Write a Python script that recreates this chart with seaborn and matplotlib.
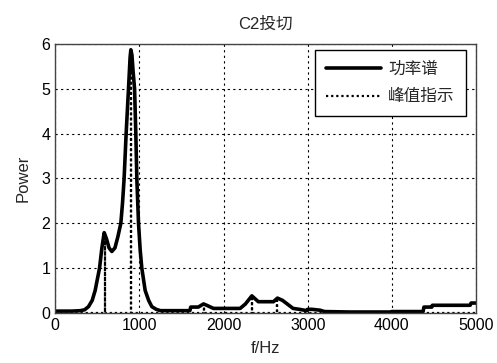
import numpy as np
import pandas as pd
import matplotlib
matplotlib.use("Agg")
import matplotlib.pyplot as plt
from matplotlib.lines import Line2D
import seaborn as sns

# Power spectrum
freq = [0, 100, 200, 300, 350, 396, 440, 475, 527, 555, 582, 610, 640, 673,
        710, 745, 780, 800, 819, 843, 871, 890, 899, 912, 925, 943, 958,
        970, 990, 1010, 1029, 1069, 1110, 1148, 1200, 1250, 1400, 1600,
        1610, 1700, 1762, 1800, 1880, 2000, 2197, 2260, 2336, 2413, 2593,
        2640, 2700, 2826, 2900, 2989, 3000, 3050, 3147, 3200, 3500, 3979,
        4000, 4370, 4380, 4474, 4480, 4700, 4929, 4940, 5000]
power = [0.04, 0.04, 0.04, 0.05, 0.07, 0.14, 0.28, 0.5, 1.0, 1.45, 1.79,
         1.65, 1.45, 1.37, 1.45, 1.7, 2.0, 2.45, 3.0, 4.0, 5.0, 5.7, 5.87,
         5.75, 5.4, 5.0, 4.0, 3.0, 2.0, 1.4, 1.0, 0.5, 0.28, 0.14, 0.08,
         0.05, 0.05, 0.05, 0.13, 0.13, 0.2, 0.17, 0.1, 0.1, 0.1, 0.2, 0.38,
         0.25, 0.25, 0.33, 0.28, 0.1, 0.08, 0.05, 0.08, 0.08, 0.06, 0.03,
         0.02, 0.02, 0.03, 0.03, 0.13, 0.13, 0.17, 0.17, 0.17, 0.22, 0.22]

# Peak indicator
peak_freq = [588, 895, 1762, 2336, 2640]
peak_power = [1.79, 5.87, 0.2, 0.38, 0.33]

title = "C2投切"
xlabel = "f/Hz"
ylabel = "Power"
legend_labels = ["功率谱", "峰值指示"]
xticks = [0, 1000, 2000, 3000, 4000, 5000]
yticks = [0, 1, 2, 3, 4, 5, 6]

sns.set_theme(style="white")
plt.rcParams["font.family"] = ["Liberation Sans", "Noto Sans CJK SC", "DejaVu Sans"]

fig = plt.figure(figsize=(4.97, 3.63), dpi=100)
ax = fig.add_axes([0.111, 0.138, 0.847, 0.741])

spec = pd.DataFrame({"f": freq, "p": power})
sns.lineplot(data=spec, x="f", y="p", ax=ax, color="black", linewidth=2.6,
             estimator=None, sort=True)

# peak indicator series: zero baseline with stems at peaks
pf, pp = [0], [0]
for f, p in zip(peak_freq, peak_power):
    pf += [f, f, f]
    pp += [0, p, 0]
pf.append(5000)
pp.append(0)
ind = pd.DataFrame({"f": pf, "p": pp})
sns.lineplot(data=ind, x="f", y="p", ax=ax, color="black", linewidth=1.6,
             linestyle=(0, (1, 1.3)), estimator=None, sort=False)

ax.set_xlim(0, 5000)
ax.set_ylim(0, 6)
ax.set_xticks(xticks)
ax.set_yticks(yticks)
ax.tick_params(direction="in", labelsize=11.5, length=3, colors="black")
ax.grid(True, color="black", linestyle=(0, (2, 3)), linewidth=0.8)
for s in ax.spines.values():
    s.set_color("#444444")
    s.set_linewidth(1.0)

ax.set_title(title, fontsize=12, pad=11)
ax.set_xlabel(xlabel, fontsize=12, labelpad=6)
ax.set_ylabel(ylabel, fontsize=12, labelpad=8)

handles = [Line2D([], [], color="black", linewidth=2.6),
           Line2D([], [], color="black", linewidth=1.6, linestyle=(0, (1, 1.3)))]
leg = ax.legend(handles, legend_labels, loc="upper right", fontsize=12,
                bbox_to_anchor=(0.976, 0.978), borderaxespad=0,
                fancybox=False, framealpha=1, edgecolor="black",
                borderpad=0.7, labelspacing=0.75, handlelength=3.3,
                handletextpad=0.4)
leg.get_frame().set_linewidth(1.0)

fig.savefig("out.png", dpi=100)
